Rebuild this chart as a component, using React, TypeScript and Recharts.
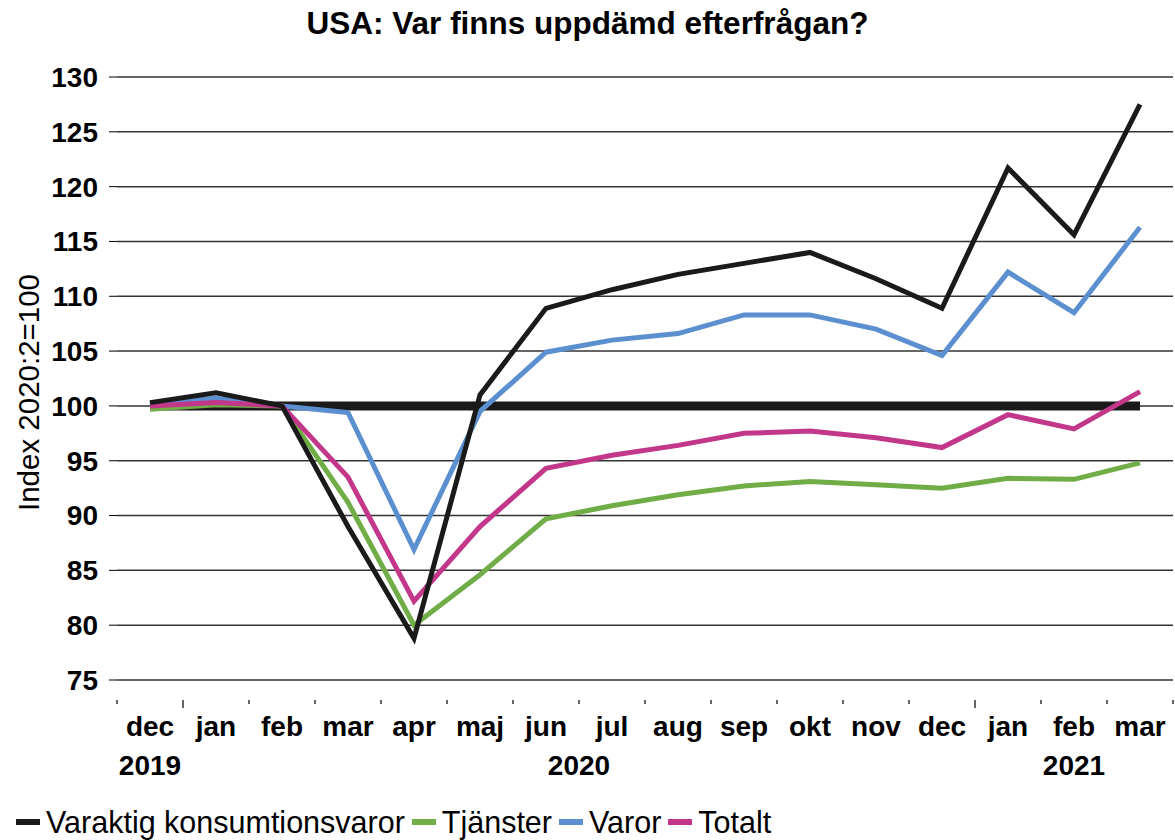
import { CartesianGrid, Legend, Line, LineChart, XAxis, YAxis } from "recharts";

const FONT = '"Liberation Sans", Arial, sans-serif';

const periods = [
  "2019-12", "2020-01", "2020-02", "2020-03", "2020-04", "2020-05", "2020-06", "2020-07",
  "2020-08", "2020-09", "2020-10", "2020-11", "2020-12", "2021-01", "2021-02", "2021-03",
];
const monthLabels = [
  "dec", "jan", "feb", "mar", "apr", "maj", "jun", "jul",
  "aug", "sep", "okt", "nov", "dec", "jan", "feb", "mar",
];
const yearGroups = [
  { label: "2019", first: 0, last: 0 },
  { label: "2020", first: 1, last: 12 },
  { label: "2021", first: 13, last: 15 },
];

const varaktig = [100.3, 101.2, 100, 89.0, 78.8, 101.0, 108.9, 110.6, 112.0, 113.0, 114.0, 111.6, 108.9, 121.7, 115.6, 127.5];
const tjanster = [99.7, 100.1, 100, 91.2, 80.0, 84.6, 89.7, 90.9, 91.9, 92.7, 93.1, 92.8, 92.5, 93.4, 93.3, 94.8];
const varor = [100.2, 100.7, 100, 99.4, 86.9, 99.5, 104.9, 106.0, 106.6, 108.3, 108.3, 107.0, 104.6, 112.2, 108.5, 116.3];
const totalt = [100.0, 100.3, 100, 93.5, 82.2, 89.0, 94.3, 95.5, 96.4, 97.5, 97.7, 97.1, 96.2, 99.2, 97.9, 101.3];
const bas = [100, 100, 100, 100, 100, 100, 100, 100, 100, 100, 100, 100, 100, 100, 100, 100];

const yTicks = [75, 80, 85, 90, 95, 100, 105, 110, 115, 120, 125, 130];

// legend order (drawing order differs below)
const series = [
  { key: "varaktig", name: "Varaktig konsumtionsvaror", color: "#1a1a1a" },
  { key: "tjanster", name: "Tjänster", color: "#70ad47" },
  { key: "varor", name: "Varor", color: "#5b8fcf" },
  { key: "totalt", name: "Totalt", color: "#c2378a" },
];

const data = periods.map((period, i) => ({
  period,
  varaktig: varaktig[i],
  tjanster: tjanster[i],
  varor: varor[i],
  totalt: totalt[i],
  bas: bas[i],
}));

const HALF_STEP = 33;

const MonthTick = ({ x, y, payload, index }: any) => {
  const i = typeof index === "number" ? index : periods.indexOf(payload.value);
  const major = yearGroups.some((g) => g.first === i && i > 0);
  const year = yearGroups.find((g) => g.first === i);
  const yearX = year ? x + (year.last - year.first) * HALF_STEP : 0;
  return (
    <g>
      <line x1={x - HALF_STEP} x2={x - HALF_STEP} y1={y + 20} y2={y + (major ? 28 : 24)} stroke="#000" strokeWidth={1.2} />
      {i === periods.length - 1 && (
        <line x1={x + HALF_STEP} x2={x + HALF_STEP} y1={y + 20} y2={y + 24} stroke="#000" strokeWidth={1.2} />
      )}
      <text x={x} y={y + 56} textAnchor="middle" fontSize={28} fontWeight="bold" fontFamily={FONT} fill="#000">
        {monthLabels[i]}
      </text>
      {year && (
        <text x={yearX} y={y + 95} textAnchor="middle" fontSize={28} fontWeight="bold" fontFamily={FONT} fill="#000">
          {year.label}
        </text>
      )}
    </g>
  );
};

const YTitle = ({ viewBox }: any) => {
  const cx = viewBox.x + 11;
  const cy = viewBox.y + viewBox.height / 2 + 14;
  return (
    <text
      x={cx}
      y={cy}
      transform={`rotate(-90 ${cx} ${cy})`}
      textAnchor="middle"
      dominantBaseline="central"
      fontSize={29.5}
      fontFamily={FONT}
      fill="#000"
    >
      Index 2020:2=100
    </text>
  );
};

const LegendContent = () => (
  <div style={{ display: "flex", alignItems: "center", height: 36, fontFamily: FONT, fontSize: 30.5, color: "#000" }}>
    {series.map((s) => (
      <div key={s.key} style={{ display: "flex", alignItems: "center", marginRight: 7 }}>
        <span style={{ display: "inline-block", width: 24, height: 6, background: s.color, marginRight: 6 }} />
        <span style={{ lineHeight: "36px" }}>{s.name}</span>
      </div>
    ))}
  </div>
);

export default function App() {
  return (
    <div style={{ position: "absolute", left: 0, top: 0, width: 1175, height: 840, background: "#fff" }}>
      <div
        style={{
          position: "absolute",
          top: 5,
          left: 0,
          width: 1175,
          textAlign: "center",
          fontFamily: FONT,
          fontSize: 31.5,
          fontWeight: "bold",
          lineHeight: "36px",
          color: "#000",
        }}
      >
        USA: Var finns uppdämd efterfrågan?
      </div>
      <LineChart width={1175} height={840} data={data} margin={{ top: 77, right: 2, bottom: 0, left: 17 }}>
        <CartesianGrid vertical={false} stroke="#333" strokeWidth={1.5} />
        <XAxis
          dataKey="period"
          height={124}
          axisLine={false}
          tickLine={false}
          tickSize={0}
          tickMargin={0}
          interval={0}
          padding={{ left: HALF_STEP, right: HALF_STEP }}
          tick={<MonthTick />}
        />
        <YAxis
          width={100}
          domain={[75, 130]}
          ticks={yTicks}
          interval={0}
          axisLine={false}
          tickLine={{ stroke: "#000", strokeWidth: 1 }}
          tickSize={8}
          tickMargin={11}
          tick={{ fontSize: 28, fontWeight: "bold", fontFamily: FONT, fill: "#000" }}
          label={<YTitle />}
        />
        <Legend
          verticalAlign="bottom"
          align="left"
          content={<LegendContent />}
          wrapperStyle={{ left: 16, bottom: 0, height: 36 }}
        />
        <Line dataKey="bas" stroke="#1a1a1a" strokeWidth={9} dot={false} activeDot={false} legendType="none" isAnimationActive={false} />
        <Line dataKey="tjanster" name="Tjänster" stroke="#70ad47" strokeWidth={5} dot={false} activeDot={false} isAnimationActive={false} />
        <Line dataKey="varor" name="Varor" stroke="#5b8fcf" strokeWidth={5} dot={false} activeDot={false} isAnimationActive={false} />
        <Line dataKey="totalt" name="Totalt" stroke="#c2378a" strokeWidth={5} dot={false} activeDot={false} isAnimationActive={false} />
        <Line dataKey="varaktig" name="Varaktig konsumtionsvaror" stroke="#1a1a1a" strokeWidth={5} dot={false} activeDot={false} isAnimationActive={false} />
      </LineChart>
    </div>
  );
}
